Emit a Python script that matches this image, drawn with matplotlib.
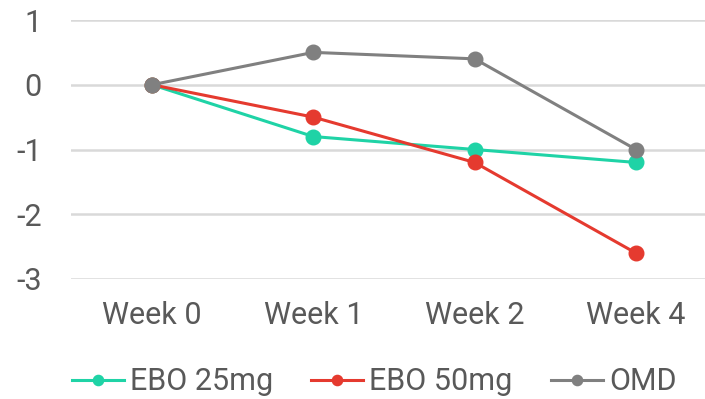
import matplotlib.pyplot as plt
import numpy as np

plt.rcParams['font.family'] = ['Roboto', 'DejaVu Sans']
plt.rcParams['axes.unicode_minus'] = False

weeks = ['Week 0', 'Week 1', 'Week 2', 'Week 4']
ebo25 = [0, -0.8, -1.0, -1.2]
ebo50 = [0, -0.5, -1.2, -2.6]
omd = [0, 0.5, 0.4, -1.0]

series = [('EBO 25mg', ebo25, '#1fd3a6'),
          ('EBO 50mg', ebo50, '#e53a2f'),
          ('OMD', omd, '#808080')]

text_color = '#595959'

fig = plt.figure(figsize=(7.05, 3.99), dpi=100)
ax = fig.add_axes([71 / 705, 120 / 399, 634 / 705, 259 / 399])

x = np.arange(len(weeks))
for name, vals, col in series:
    ax.plot(x, vals, '-o', color=col, lw=2.2, markersize=10.5, label=name)

ax.set_xticks(x)
ax.set_xticklabels(weeks)
ax.set_yticks([-3, -2, -1, 0, 1])
ax.set_ylim(-3, 1)
ax.set_xlim(-81 / 161.3, 3 + 69 / 161.3)

ax.grid(axis='y', color='#d9d9d9', lw=1.8)
ax.set_axisbelow(True)
for s in ax.spines.values():
    s.set_visible(False)
ax.tick_params(axis='both', length=0, labelsize=22, labelcolor=text_color)
ax.tick_params(axis='y', pad=21)
ax.tick_params(axis='x', pad=16)

leg = fig.legend(loc='center', bbox_to_anchor=(374 / 705, 1 - 382 / 399),
                 ncol=3, frameon=False, fontsize=22, handlelength=1.7,
                 handletextpad=0.2, columnspacing=1.25, markerscale=0.7,
                 borderpad=0)
for t in leg.get_texts():
    t.set_color(text_color)

fig.savefig('out.png', dpi=100)
